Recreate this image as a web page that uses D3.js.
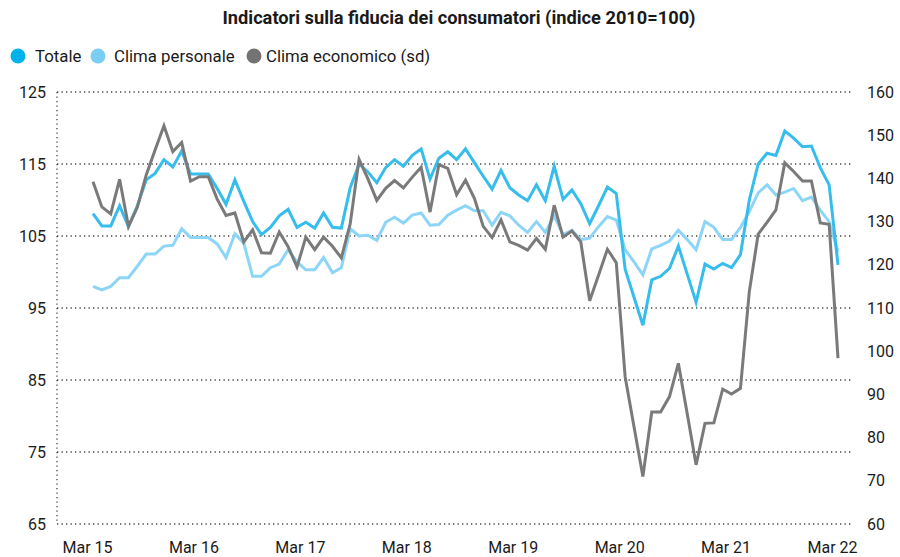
<!DOCTYPE html>
<html>
<head>
<meta charset="utf-8">
<script src="https://cdnjs.cloudflare.com/ajax/libs/d3/7.8.5/d3.min.js"></script>
<style>
body{margin:0;background:#fff;}
text{font-family:Roboto,"Noto Sans",sans-serif;fill:#1a1a1a;}
</style>
</head>
<body>
<svg id="chart" width="900" height="557"></svg>
<script>
// mensili, da Mar 15 a Mar 22
var totale=[
108.1,106.4,106.4,109.2,106.3,109.2,112.8,113.7,115.6,114.6,
116.8,113.6,113.6,113.6,111.6,109.4,112.8,109.8,107.0,105.2,
106.2,107.8,108.7,106.2,106.9,106.1,108.2,106.2,106.1,111.7,
115.0,113.9,112.4,114.5,115.6,114.7,116.2,117.1,112.9,115.8,
116.7,115.6,117.1,115.2,113.3,111.5,114.1,111.7,110.7,109.9,
112.1,109.9,114.7,110.1,111.4,109.5,106.7,109.2,111.8,110.9,
100.4,96.5,92.6,98.9,99.4,100.5,103.6,99.7,95.8,101.1,
100.4,101.2,100.6,102.4,110.0,115.0,116.5,116.2,119.6,118.6,
117.4,117.5,114.5,112.1,101.0];

var personale=[
98.0,97.5,98.0,99.2,99.2,100.8,102.5,102.5,103.6,103.7,
106.0,104.8,104.8,104.8,103.9,102.0,105.3,104.0,99.4,99.4,
100.6,101.1,103.1,101.4,100.3,100.3,102.0,99.9,100.6,106.0,
105.0,105.1,104.4,106.9,107.6,106.8,107.9,108.2,106.5,106.6,
107.9,108.6,109.2,108.5,108.5,106.5,108.3,107.8,106.5,105.5,
107.0,105.5,107.8,105.2,105.8,104.5,104.7,106.3,107.7,107.2,
103.1,101.4,99.6,103.2,103.7,104.3,105.8,104.5,103.1,107.0,
106.2,104.5,104.5,106.2,108.4,111.0,112.1,110.7,111.1,111.6,
109.9,110.4,108.6,107.0,102.8];

// asse destro
var economico=[
139.2,133.4,131.8,139.8,128.9,133.3,140.8,146.6,152.2,146.2,
148.3,139.4,140.4,140.4,135.2,131.4,132.0,125.3,128.1,122.8,
122.7,127.6,124.2,119.5,126.4,123.5,126.4,124.3,121.6,129.5,
144.4,139.9,134.9,137.7,139.5,137.8,140.3,142.6,132.2,143.2,
142.3,136.2,139.6,135.4,128.9,126.3,130.4,125.3,124.5,123.4,
126.1,123.6,133.8,126.4,127.8,125.3,111.7,117.6,123.6,120.5,
94.1,82.5,71.0,85.9,85.9,89.5,97.2,85.5,73.7,83.3,
83.4,91.2,90.1,91.4,113.8,127.1,129.8,132.7,143.6,141.6,
139.4,139.4,129.7,129.4,98.4];

var xLabels=["Mar 15","Mar 16","Mar 17","Mar 18","Mar 19","Mar 20","Mar 21","Mar 22"];
var leftTicks=[65,75,85,95,105,115,125];
var rightTicks=[60,70,80,90,100,110,120,130,140,150,160];

var series=[
    {name:"Totale",values:totale,axis:"left",color:"#36bdeb",dot:"#00b2ea"},
    {name:"Clima personale",values:personale,axis:"left",color:"#8dd5f6",dot:"#7acdf3"},
    {name:"Clima economico (sd)",values:economico,axis:"right",color:"#7a7a7a",dot:"#737373"}
];

var svg=d3.select("#chart");

var x=d3.scaleLinear().domain([0,totale.length-1]).range([93,838]);
var yL=d3.scaleLinear().domain([65,125]).range([524,92]);
var yR=d3.scaleLinear().domain([60,160]).range([524,92]);

//titolo
svg.append("text")
    .attr("x",459).attr("y",24)
    .attr("text-anchor","middle")
    .attr("font-size",17.5).attr("font-weight","bold")
    .attr("textLength",473).attr("lengthAdjust","spacingAndGlyphs")
    .text("Indicatori sulla fiducia dei consumatori (indice 2010=100)");

//legenda
var legX=[18,98,254];
var legT=[35,114,266];
var leg=svg.append("g").attr("class","legend");
series.forEach(function(s,i){
    leg.append("circle").attr("cx",legX[i]).attr("cy",56).attr("r",7.5).attr("fill",s.dot);
    leg.append("text").attr("x",legT[i]).attr("y",62).attr("font-size",16.8).text(s.name);
});

//griglia
var grid=svg.append("g").attr("class","grid");
grid.selectAll("line").data(leftTicks).enter().append("line")
    .attr("x1",57).attr("x2",852)
    .attr("y1",function(d){return yL(d)})
    .attr("y2",function(d){return yL(d)})
    .attr("stroke","#444").attr("stroke-width",1.3)
    .attr("stroke-dasharray","1.3,3.2");
grid.append("line")
    .attr("x1",57).attr("x2",57).attr("y1",yL(125)).attr("y2",yL(65))
    .attr("stroke","#444").attr("stroke-width",1.3)
    .attr("stroke-dasharray","1.3,3.2");

//assi
var axL=d3.axisLeft(yL).tickValues(leftTicks).tickSize(0).tickPadding(11);
var axR=d3.axisRight(yR).tickValues(rightTicks).tickSize(0).tickPadding(15);
var axB=d3.axisBottom(x).tickValues(d3.range(0,totale.length,12))
    .tickFormat(function(d,i){return xLabels[i]}).tickSize(0).tickPadding(18);

function styleAxis(g){
    g.select(".domain").remove();
    g.selectAll("text").attr("font-size",16).attr("fill","#1a1a1a")
        .style("font-family","Roboto, 'Noto Sans', sans-serif");
}
svg.append("g").attr("transform","translate(57,0)").call(axL).call(styleAxis);
svg.append("g").attr("transform","translate(852,0)").call(axR).call(styleAxis);
svg.append("g").attr("transform","translate(-6,524)").call(axB).call(styleAxis);

//linee
var lines=svg.append("g").attr("class","lines");
[1,0,2].forEach(function(k){
    var s=series[k];
    var yy=s.axis=="left"?yL:yR;
    var line=d3.line()
        .x(function(d,i){return x(i)})
        .y(function(d){return yy(d)});
    lines.append("path")
        .datum(s.values)
        .attr("d",line)
        .attr("fill","none")
        .attr("stroke",s.color)
        .attr("stroke-width",3)
        .attr("stroke-linejoin","miter");
});
</script>
</body>
</html>
